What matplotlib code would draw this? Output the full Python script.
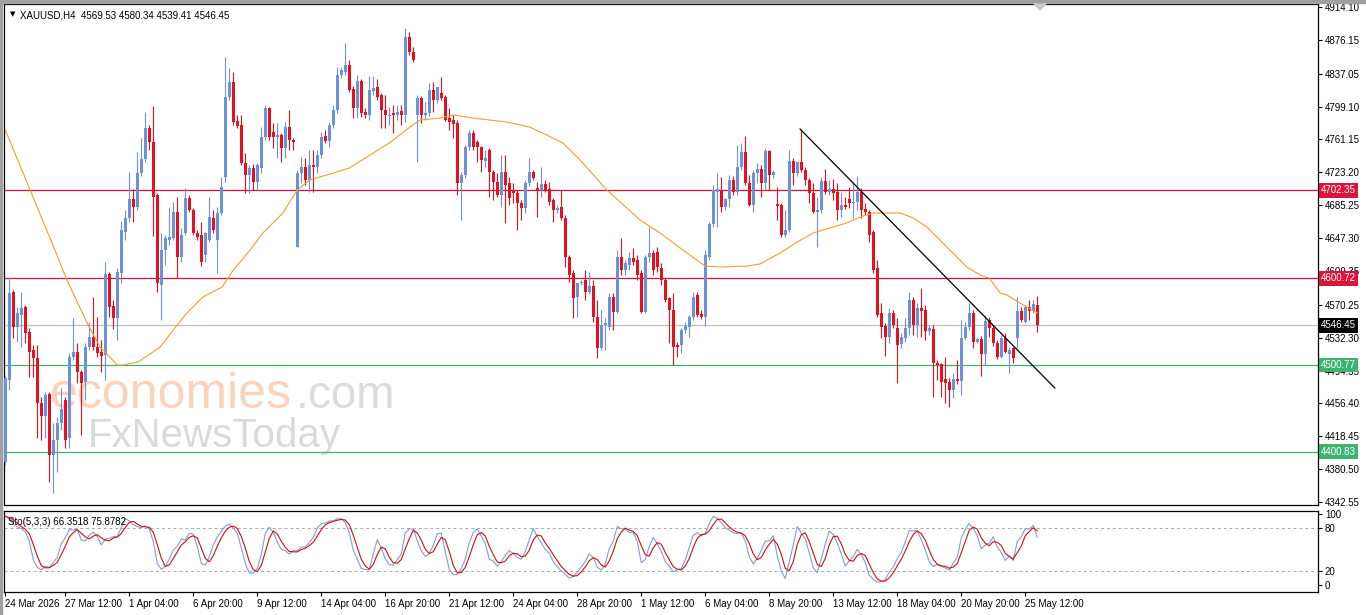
import numpy as np
import pandas as pd
import matplotlib
matplotlib.use('Agg')
import matplotlib.pyplot as plt
from matplotlib.patches import Rectangle, Polygon

plt.rcParams['font.family'] = ['Liberation Sans', 'DejaVu Sans']

# XAUUSD H4 candles (bar 0 = first visible bar)
opens = [
    4388.7, 4483.4, 4585.0, 4544.6, 4558.4, 4567.7, 4538.8, 4518.0, 4508.8, 4456.8,
    4441.9, 4467.3, 4396.8, 4414.1, 4433.7, 4460.3, 4416.5, 4510.0, 4515.7, 4492.6,
    4481.1, 4521.5, 4532.7, 4521.5, 4515.7, 4512.3, 4605.8, 4568.9, 4555.0, 4606.9,
    4654.3, 4670.5, 4692.4, 4683.2, 4722.4, 4738.6, 4774.4, 4758.2, 4697.0, 4593.1,
    4633.5, 4645.1, 4647.4, 4677.4, 4625.5, 4653.2, 4693.6, 4679.7, 4653.2, 4650.8,
    4627.8, 4645.1, 4670.5, 4645.1, 4676.3, 4717.8, 4810.2, 4827.5, 4782.5, 4777.9,
    4734.0, 4720.1, 4728.2, 4712.1, 4728.2, 4764.0, 4797.5, 4769.8, 4764.0, 4766.3,
    4751.3, 4775.6, 4760.5, 4637.0, 4722.4, 4729.4, 4714.4, 4731.7, 4729.4, 4743.2,
    4765.2, 4759.4, 4777.9, 4795.2, 4835.6, 4839.1, 4847.1, 4819.4, 4797.5, 4828.7,
    4792.9, 4789.4, 4817.1, 4821.7, 4812.5, 4795.2, 4788.3, 4791.7, 4789.4, 4794.0,
    4789.4, 4879.5, 4862.2, 4789.4, 4809.0, 4789.4, 4791.7, 4818.3, 4806.7, 4814.8,
    4810.2, 4785.9, 4783.6, 4780.2, 4710.9, 4720.1, 4752.5, 4768.6, 4758.2, 4752.5,
    4736.3, 4749.0, 4723.6, 4712.1, 4697.0, 4723.6, 4710.9, 4702.8, 4699.3, 4687.8,
    4682.0, 4710.9, 4723.6, 4705.1, 4702.8, 4709.7, 4704.0, 4691.3, 4679.7, 4683.2,
    4670.5, 4625.5, 4607.0, 4579.2, 4595.4, 4598.9, 4584.9, 4591.9, 4556.1, 4520.4,
    4546.9, 4544.6, 4579.2, 4561.9, 4625.5, 4610.4, 4616.2, 4624.3, 4622.0, 4607.0,
    4561.9, 4625.5, 4630.1, 4631.2, 4612.7, 4598.9, 4578.1, 4564.2, 4523.8, 4523.8,
    4541.1, 4544.6, 4556.1, 4581.5, 4559.6, 4556.1, 4625.5, 4663.6, 4700.5, 4702.8,
    4683.2, 4692.4, 4714.4, 4700.5, 4729.4, 4746.7, 4710.9, 4685.5, 4722.4, 4727.1,
    4710.9, 4747.8, 4720.1, 4686.7, 4685.5, 4650.8, 4656.6, 4736.3, 4722.4, 4735.2,
    4725.9, 4714.4, 4699.3, 4677.4, 4679.7, 4713.2, 4700.5, 4704.0, 4700.5, 4679.7,
    4685.5, 4692.4, 4687.8, 4689.0, 4700.5, 4680.9, 4677.4, 4654.3, 4612.7, 4560.7,
    4545.8, 4533.1, 4560.7, 4543.4, 4525.0, 4531.9, 4543.4, 4575.8, 4546.9, 4566.5,
    4564.2, 4540.0, 4542.3, 4503.0, 4501.8, 4484.6, 4481.1, 4471.9, 4484.6, 4482.3,
    4531.9, 4544.6, 4560.7, 4527.3, 4530.8, 4513.4, 4552.7, 4543.4, 4526.1, 4510.0,
    4531.9, 4513.4, 4520.4, 4531.9, 4563.1, 4550.4, 4567.7, 4563.1, 4569.53,
]
highs = [
    4489.2, 4602.3, 4587.3, 4567.7, 4585.0, 4570.0, 4543.4, 4523.8, 4523.8, 4463.7,
    4469.6, 4469.6, 4433.7, 4440.7, 4474.2, 4463.7, 4514.6, 4555.0, 4526.1, 4494.9,
    4526.1, 4550.4, 4579.2, 4556.1, 4529.6, 4619.7, 4608.1, 4575.8, 4612.7, 4667.0,
    4679.7, 4723.6, 4704.0, 4746.7, 4762.8, 4792.9, 4777.9, 4799.8, 4699.3, 4653.2,
    4650.8, 4683.2, 4689.0, 4694.7, 4658.9, 4705.1, 4697.0, 4682.0, 4656.6, 4665.9,
    4654.3, 4694.7, 4679.7, 4683.2, 4717.8, 4856.4, 4843.7, 4839.1, 4789.4, 4789.4,
    4745.5, 4731.7, 4732.8, 4734.0, 4775.6, 4800.9, 4798.6, 4780.2, 4780.2, 4768.6,
    4781.3, 4795.2, 4762.8, 4725.9, 4740.9, 4739.8, 4749.0, 4749.0, 4749.0, 4769.8,
    4772.1, 4781.3, 4800.9, 4844.8, 4844.8, 4872.5, 4852.9, 4822.9, 4835.6, 4831.0,
    4797.5, 4833.9, 4833.9, 4831.0, 4814.8, 4812.5, 4798.6, 4800.9, 4800.9, 4800.9,
    4889.9, 4885.3, 4867.9, 4812.5, 4811.3, 4804.4, 4826.4, 4827.5, 4821.7, 4833.3,
    4812.5, 4797.5, 4789.4, 4783.6, 4723.6, 4754.8, 4772.1, 4772.1, 4760.5, 4753.6,
    4749.0, 4751.3, 4725.9, 4722.4, 4743.2, 4743.2, 4717.8, 4710.9, 4702.8, 4691.3,
    4714.4, 4739.8, 4725.9, 4712.1, 4729.4, 4714.4, 4712.1, 4693.6, 4685.5, 4702.8,
    4674.0, 4627.8, 4610.4, 4595.4, 4598.9, 4610.4, 4608.1, 4598.9, 4575.8, 4564.2,
    4555.0, 4583.9, 4583.9, 4633.5, 4647.4, 4622.0, 4631.2, 4635.8, 4627.8, 4610.4,
    4627.8, 4660.1, 4633.5, 4637.0, 4618.5, 4601.2, 4579.2, 4583.9, 4527.3, 4543.4,
    4550.4, 4558.4, 4585.0, 4585.0, 4564.2, 4633.5, 4665.9, 4708.6, 4722.4, 4717.8,
    4693.6, 4720.1, 4719.0, 4754.8, 4757.1, 4765.2, 4720.1, 4725.9, 4734.0, 4731.7,
    4751.3, 4749.0, 4725.9, 4706.3, 4687.8, 4679.7, 4749.0, 4739.8, 4731.7, 4773.2,
    4729.4, 4716.7, 4710.9, 4694.7, 4717.8, 4727.1, 4714.4, 4715.5, 4710.9, 4700.5,
    4694.7, 4706.3, 4712.1, 4719.0, 4705.1, 4687.8, 4679.7, 4656.6, 4622.0, 4572.3,
    4549.2, 4566.5, 4564.2, 4555.0, 4537.6, 4555.0, 4585.0, 4579.2, 4572.3, 4589.6,
    4570.0, 4546.9, 4546.9, 4506.5, 4503.0, 4510.0, 4485.7, 4491.5, 4506.5, 4552.7,
    4550.4, 4572.3, 4564.2, 4533.1, 4534.2, 4558.4, 4556.1, 4546.9, 4529.6, 4535.3,
    4537.6, 4521.5, 4521.5, 4579.2, 4567.7, 4570.0, 4575.8, 4575.8, 4580.34,
]
lows = [
    4385.2, 4471.9, 4531.9, 4527.3, 4521.5, 4526.1, 4486.9, 4486.9, 4416.5, 4414.1,
    4416.5, 4365.7, 4353.0, 4377.2, 4425.7, 4404.9, 4404.9, 4506.5, 4479.9, 4419.9,
    4460.3, 4518.0, 4518.0, 4510.0, 4492.6, 4483.4, 4556.1, 4542.3, 4529.6, 4595.4,
    4645.1, 4665.9, 4665.9, 4679.7, 4719.0, 4735.2, 4749.0, 4649.7, 4585.0, 4552.7,
    4616.2, 4639.3, 4645.1, 4601.2, 4619.7, 4650.8, 4677.4, 4650.8, 4645.1, 4615.0,
    4619.7, 4642.8, 4653.2, 4607.0, 4674.0, 4712.1, 4806.7, 4777.9, 4774.4, 4731.7,
    4699.3, 4699.3, 4702.8, 4702.8, 4722.4, 4760.5, 4760.5, 4751.3, 4739.8, 4735.2,
    4739.8, 4749.0, 4749.0, 4637.0, 4710.9, 4708.6, 4700.5, 4700.5, 4722.4, 4739.8,
    4757.1, 4752.5, 4774.4, 4791.7, 4832.1, 4835.6, 4816.0, 4785.9, 4785.9, 4787.1,
    4785.9, 4783.6, 4812.5, 4806.7, 4774.4, 4774.4, 4777.9, 4768.6, 4783.6, 4777.9,
    4781.3, 4858.7, 4850.6, 4735.2, 4780.2, 4783.6, 4788.3, 4792.9, 4803.2, 4806.7,
    4782.5, 4772.1, 4762.8, 4697.0, 4668.2, 4716.7, 4749.0, 4749.0, 4735.2, 4723.6,
    4729.4, 4694.7, 4691.3, 4694.7, 4683.2, 4664.7, 4685.5, 4687.8, 4656.6, 4668.2,
    4676.3, 4707.4, 4714.4, 4671.6, 4694.7, 4700.5, 4685.5, 4665.9, 4676.3, 4668.2,
    4613.9, 4596.6, 4555.0, 4556.1, 4593.1, 4575.8, 4582.6, 4550.4, 4508.8, 4518.0,
    4518.0, 4541.1, 4541.1, 4560.8, 4604.7, 4604.7, 4610.4, 4616.2, 4598.9, 4560.8,
    4560.8, 4619.7, 4604.7, 4608.1, 4593.1, 4573.5, 4526.1, 4500.7, 4510.0, 4514.6,
    4537.6, 4532.7, 4552.7, 4556.1, 4553.8, 4545.8, 4622.0, 4660.1, 4660.1, 4677.4,
    4679.7, 4683.2, 4697.0, 4697.0, 4725.9, 4708.6, 4684.3, 4677.4, 4710.9, 4694.7,
    4702.8, 4702.8, 4716.7, 4668.2, 4648.5, 4648.5, 4654.3, 4708.6, 4719.0, 4723.6,
    4708.6, 4687.8, 4676.3, 4637.0, 4676.3, 4698.2, 4697.0, 4691.3, 4668.2, 4671.6,
    4680.9, 4682.0, 4670.5, 4679.7, 4670.5, 4674.0, 4642.8, 4607.0, 4556.1, 4531.9,
    4511.1, 4526.1, 4543.4, 4479.9, 4520.4, 4527.3, 4535.3, 4535.3, 4533.1, 4533.1,
    4529.6, 4535.3, 4463.8, 4483.4, 4463.8, 4456.8, 4452.2, 4462.6, 4478.8, 4466.1,
    4529.6, 4541.1, 4520.4, 4526.1, 4488.0, 4500.7, 4533.1, 4522.7, 4507.7, 4508.8,
    4514.6, 4491.5, 4503.0, 4520.4, 4550.4, 4549.2, 4552.7, 4560.8, 4539.41,
]
closes = [
    4485.7, 4583.9, 4544.6, 4560.7, 4566.5, 4537.6, 4515.7, 4508.8, 4456.8, 4441.9,
    4466.1, 4396.8, 4414.1, 4433.7, 4449.9, 4414.1, 4510.0, 4515.7, 4492.6, 4479.9,
    4521.5, 4532.7, 4521.5, 4514.5, 4511.1, 4605.8, 4567.7, 4555.0, 4608.1, 4656.6,
    4670.5, 4692.4, 4683.2, 4722.4, 4738.6, 4774.4, 4758.2, 4694.7, 4595.4, 4633.5,
    4647.4, 4648.5, 4677.4, 4625.5, 4650.8, 4693.6, 4679.7, 4653.2, 4648.5, 4619.7,
    4653.2, 4671.6, 4656.6, 4676.3, 4706.3, 4810.2, 4827.5, 4781.3, 4776.7, 4734.0,
    4720.1, 4728.2, 4712.1, 4731.7, 4764.0, 4797.5, 4764.0, 4764.0, 4766.3, 4751.3,
    4775.6, 4760.5, 4758.2, 4722.4, 4729.4, 4714.4, 4731.7, 4729.4, 4743.2, 4764.0,
    4759.4, 4777.9, 4795.2, 4835.6, 4841.4, 4847.1, 4818.3, 4797.5, 4828.7, 4791.7,
    4789.4, 4818.3, 4820.6, 4810.2, 4795.2, 4789.4, 4789.4, 4789.4, 4792.9, 4789.4,
    4879.5, 4862.2, 4852.9, 4809.0, 4789.4, 4791.7, 4818.3, 4806.7, 4821.7, 4809.0,
    4783.6, 4781.3, 4779.0, 4710.9, 4720.1, 4752.5, 4768.6, 4752.5, 4752.5, 4737.5,
    4739.8, 4723.6, 4712.1, 4697.0, 4723.6, 4708.6, 4693.6, 4699.3, 4687.8, 4682.0,
    4710.9, 4723.6, 4716.7, 4702.8, 4709.7, 4702.8, 4689.0, 4679.7, 4682.0, 4670.5,
    4625.5, 4604.7, 4578.1, 4595.4, 4596.6, 4584.9, 4591.9, 4556.1, 4520.4, 4546.9,
    4549.2, 4579.2, 4561.9, 4625.5, 4610.4, 4618.5, 4624.3, 4619.7, 4604.7, 4561.9,
    4625.5, 4630.1, 4610.4, 4613.9, 4598.9, 4575.8, 4564.2, 4521.5, 4521.5, 4541.1,
    4545.8, 4556.1, 4579.2, 4558.4, 4556.1, 4627.8, 4663.6, 4702.8, 4704.0, 4683.2,
    4692.4, 4714.4, 4700.5, 4729.4, 4746.7, 4710.9, 4685.5, 4722.4, 4727.1, 4710.9,
    4747.8, 4720.1, 4723.6, 4684.3, 4650.8, 4656.6, 4736.3, 4722.4, 4735.2, 4725.9,
    4714.4, 4699.3, 4677.4, 4679.7, 4713.2, 4700.5, 4704.0, 4699.3, 4679.7, 4685.5,
    4683.2, 4687.8, 4689.0, 4700.5, 4679.7, 4677.4, 4650.8, 4610.4, 4558.4, 4544.6,
    4533.1, 4560.7, 4546.9, 4523.8, 4533.1, 4543.4, 4575.8, 4546.9, 4566.5, 4563.1,
    4540.0, 4543.4, 4503.0, 4500.7, 4481.1, 4479.9, 4471.9, 4484.6, 4482.3, 4531.9,
    4544.6, 4560.7, 4527.3, 4530.8, 4513.4, 4551.5, 4543.4, 4526.1, 4510.0, 4531.9,
    4515.7, 4518.0, 4508.8, 4563.1, 4552.7, 4567.7, 4563.1, 4571.2, 4546.45,
]

# moving average (orange), read at these bar positions
ma_bars = [0, 12.4, 15.4, 20.7, 23.7, 28, 29.4, 33.2, 38.7, 42, 45.4, 49.4, 54.2, 57,
           61.2, 64.4, 69.4, 73, 76, 82, 86, 90.4, 96, 101.2, 103.7, 108.7, 112, 117,
           125.4, 131, 135.4, 139.4, 143.7, 150.4, 158.7, 163.7, 169.4, 175, 178.7,
           185.4, 188.7, 193.7, 198, 202, 206, 210.4, 213.7, 217, 220.4, 223.7, 227,
           230.4, 235.4, 240.4, 243.7, 246, 248.7, 250.4, 253.7, 258]
ma_vals = [4772.1, 4633.5, 4598.9, 4546.9, 4521.5, 4500.7, 4500.7, 4504.2, 4521.5,
           4541.2, 4560.8, 4579.3, 4590.8, 4610.4, 4633.5, 4653.2, 4676.3, 4702.8,
           4714.4, 4722.4, 4728.2, 4740.9, 4757.1, 4775.6, 4783.6, 4785.9, 4789.4,
           4785.9, 4781.3, 4775.6, 4766.3, 4757.1, 4737.5, 4702.8, 4668.2, 4653.2,
           4633.5, 4615.0, 4613.9, 4615.0, 4617.4, 4630.1, 4642.8, 4653.2, 4658.9,
           4664.7, 4671.6, 4676.3, 4676.3, 4676.3, 4670.5, 4660.1, 4637.0, 4613.9,
           4604.7, 4601.2, 4583.9, 4581.6, 4572.3, 4560.8]

# trend line drawn from the 8 May high
trend_bars = [198.7, 262.4]
trend_prices = [4773.2, 4474.2]

# horizontal levels
levels = [4702.35, 4600.72, 4546.45, 4500.77, 4400.83]
level_line_colors = ['#c8143c', '#c8143c', '#c0c0c0', '#3cb371', '#3cb371']
level_box_colors = ['#dc143c', '#dc143c', '#000000', '#3cb371', '#3cb371']

price_ticks = [4914.10, 4876.15, 4837.05, 4799.10, 4761.15, 4723.20, 4685.25, 4647.30,
               4609.35, 4570.25, 4532.30, 4494.35, 4456.40, 4418.45, 4380.50, 4342.55]
sto_ticks = [100, 80, 20, 0]
sto_levels = [80, 20]

date_labels = ['24 Mar 2026', '27 Mar 12:00', '1 Apr 04:00', '6 Apr 20:00', '9 Apr 12:00',
               '14 Apr 04:00', '16 Apr 20:00', '21 Apr 12:00', '24 Apr 04:00',
               '28 Apr 20:00', '1 May 12:00', '6 May 04:00', '8 May 20:00',
               '13 May 12:00', '18 May 04:00', '20 May 20:00', '25 May 12:00']
date_bars = [0, 15, 31, 47, 63, 79, 95, 111, 127, 143, 159, 175, 191, 207, 223, 239, 255]

BLUE = '#6a93dc'
RED = '#e8101c'

o = np.array(opens)
h = np.array(highs)
l = np.array(lows)
c = np.array(closes)
x = np.arange(len(c))
cols = np.where(c >= o, BLUE, RED)

# stochastic 5,3,3 from the candles
df = pd.DataFrame({'h': h, 'l': l, 'c': c})
ll = df['l'].rolling(5, min_periods=1).min()
hh = df['h'].rolling(5, min_periods=1).max()
k = 100 * (df['c'] - ll).rolling(3, min_periods=1).sum() / (hh - ll).rolling(3, min_periods=1).sum()
d = k.rolling(3, min_periods=1).mean()

W, H = 1366, 615
fig = plt.figure(figsize=(W / 100, H / 100), dpi=100)
ax = fig.add_axes([4 / W, 1 - 505 / H, 1314 / W, 501 / H])
ax2 = fig.add_axes([4 / W, 1 - 592 / H, 1314 / W, 81 / H])

xmin, xmax = -0.33, 328.2

# watermark sits under the candles
ax.text(50 / W, 1 - 408 / H, 'economies', transform=fig.transFigure, fontsize=36,
        color='#fbd2ba', zorder=0.5)
ax.text(296 / W, 1 - 408 / H, '.com', transform=fig.transFigure, fontsize=33,
        color='#dcdcdc', zorder=0.5)
ax.text(88 / W, 1 - 447 / H, 'FxNewsToday', transform=fig.transFigure, fontsize=29,
        color='#dadada', zorder=0.5)

# main panel
for lv, lc in zip(levels, level_line_colors):
    ax.axhline(lv, color=lc, lw=0.9, zorder=1)
ax.vlines(x, l, h, colors=cols, lw=0.8, zorder=3)
ax.bar(x, np.maximum(np.abs(c - o), 0.9), bottom=np.minimum(o, c), width=0.72,
       color=cols, lw=0, zorder=4)
ax.plot(ma_bars, ma_vals, color='#f0a030', lw=0.8, zorder=5)
ax.plot(trend_bars, trend_prices, color='black', lw=0.9, zorder=6)

ax.set_xlim(xmin, xmax)
ax.set_ylim(4339.1, 4917.6)
ax.yaxis.tick_right()
ax.set_yticks(price_ticks)
ax.set_yticklabels([f'{v:.2f}' for v in price_ticks])
ax.tick_params(axis='y', direction='out', length=3, width=0.8, pad=2, labelsize=7)
ax.tick_params(axis='x', bottom=False, labelbottom=False)
for s in ax.spines.values():
    s.set_linewidth(0.9)

for lv, bc in zip(levels, level_box_colors):
    ax.text(1.0025, lv, f'{lv:.2f}', transform=ax.get_yaxis_transform(), color='white',
            fontsize=7, va='center', ha='left', zorder=10, clip_on=False,
            bbox=dict(boxstyle='square,pad=0.22', fc=bc, ec='none'))

ax.text(0.0045, 0.985, '\u25bc', transform=ax.transAxes, fontsize=5, va='top',
        family=['DejaVu Sans'])
ax.text(0.012, 0.988, 'XAUUSD,H4  4569.53 4580.34 4539.41 4546.45', transform=ax.transAxes,
        fontsize=7, va='top')

# stochastic panel
for sl in sto_levels:
    ax2.axhline(sl, color='#a8a8a8', lw=0.7, ls=(0, (3, 3)), zorder=1)
ax2.plot(x, k, color='#7e9fd9', lw=0.8, zorder=3)
ax2.plot(x, d, color='#d01010', lw=0.8, zorder=4)
ax2.set_xlim(xmin, xmax)
ax2.set_ylim(-9.9, 104.2)
ax2.yaxis.tick_right()
ax2.set_yticks(sto_ticks)
ax2.set_yticklabels([str(v) for v in sto_ticks])
ax2.tick_params(axis='y', direction='out', length=3, width=0.8, pad=2, labelsize=7)
ax2.set_xticks(date_bars)
ax2.set_xticklabels(date_labels, ha='left')
ax2.tick_params(axis='x', direction='out', length=3, width=0.8, pad=2, labelsize=7)
for s in ax2.spines.values():
    s.set_linewidth(0.9)
ax2.text(0.003, 0.93, 'Sto(5,3,3) 66.3518 75.8782', transform=ax2.transAxes, fontsize=7,
         va='top')

# window frame bits
fig.patches.append(Rectangle((0, 1 - 3 / H), 1, 3 / H, transform=fig.transFigure,
                             color='#a0a0a0', zorder=0))
fig.patches.append(Rectangle((0, 0), 2 / W, 1, transform=fig.transFigure,
                             color='#a0a0a0', zorder=0))
fig.patches.append(Polygon([[1034 / W, 1 - 4 / H], [1046 / W, 1 - 4 / H], [1040 / W, 1 - 10 / H]],
                           closed=True, transform=fig.transFigure, color='#c8c8c8', zorder=30))

fig.savefig('out.png', dpi=100)
